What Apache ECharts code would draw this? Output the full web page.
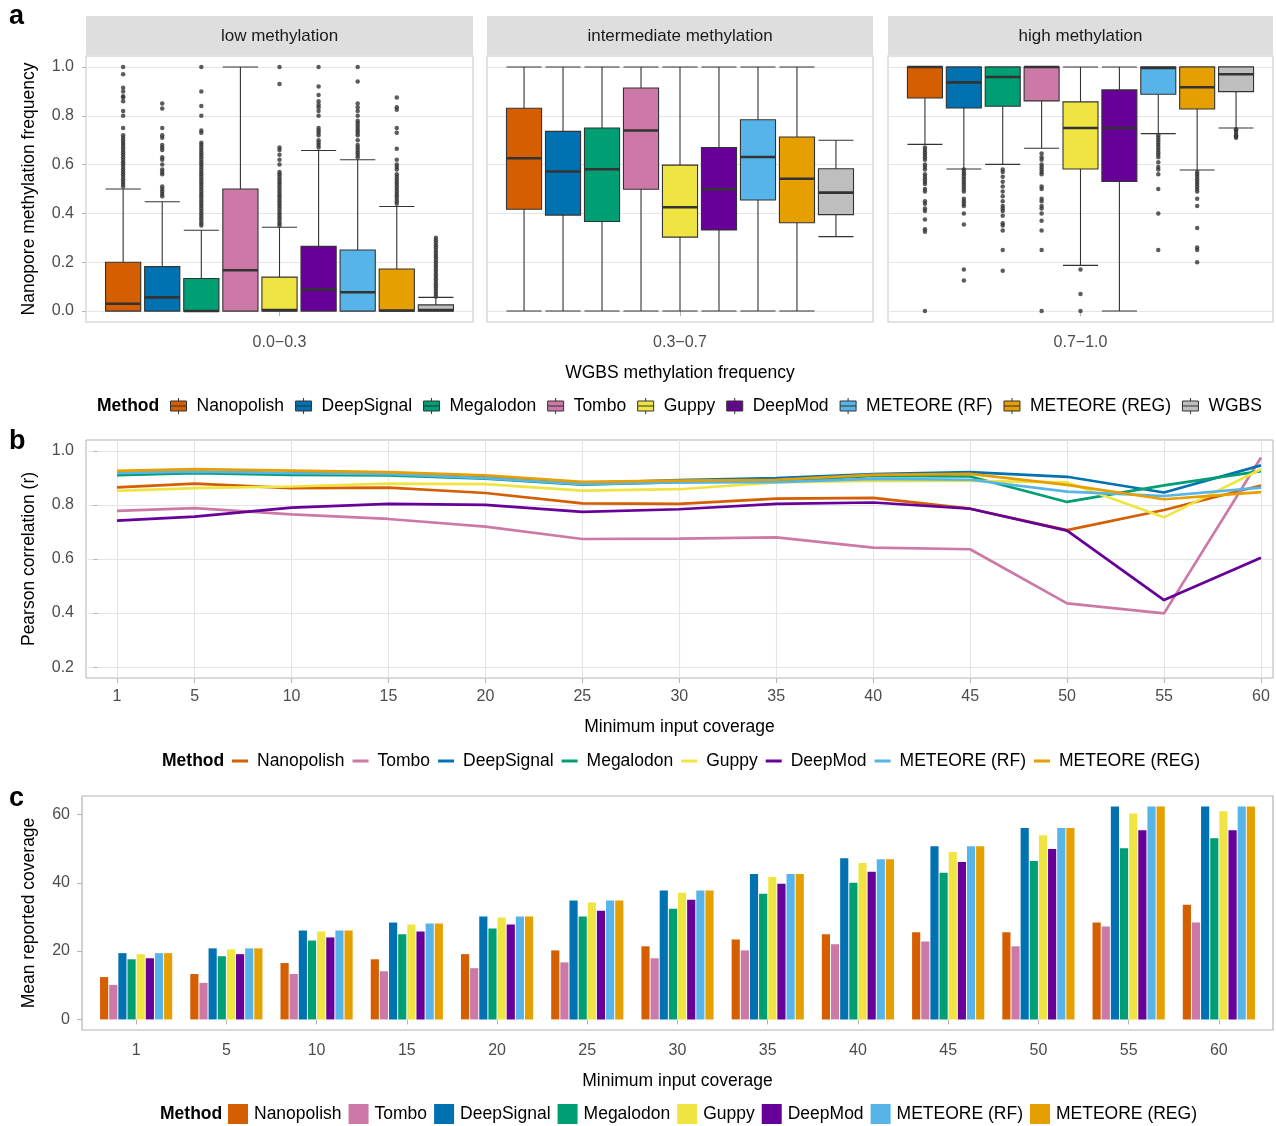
<!DOCTYPE html>
<html>
<head>
<meta charset="utf-8">
<title>Methylation benchmark</title>
<script src="https://cdn.jsdelivr.net/npm/echarts@6/dist/echarts.min.js"></script>
<style>
  html, body { margin: 0; padding: 0; background: #fff; }
  #chart { width: 1276px; height: 1126px; }
</style>
</head>
<body>
<div id="chart"></div>
<script>
// panel a order
const methods = ['Nanopolish', 'DeepSignal', 'Megalodon', 'Tombo', 'Guppy', 'DeepMod', 'METEORE (RF)', 'METEORE (REG)', 'WGBS'];
// panel b / c order
const methodsBC = ['Nanopolish', 'Tombo', 'DeepSignal', 'Megalodon', 'Guppy', 'DeepMod', 'METEORE (RF)', 'METEORE (REG)'];
const facetTitles = ['low methylation', 'intermediate methylation', 'high methylation'];
const facetLabels = ['0.0−0.3', '0.3−0.7', '0.7−1.0'];
const freqTicks = [0, 0.2, 0.4, 0.6, 0.8, 1.0];

// box stats: [lower whisker, Q1, median, Q3, upper whisker] in methods order
const boxLow = [
  [0, 0, 0.03, 0.20, 0.50],
  [0, 0, 0.056, 0.182, 0.448],
  [0, 0, 0, 0.133, 0.331],
  [0, 0, 0.167, 0.50, 1.0],
  [0, 0, 0.004, 0.139, 0.343],
  [0, 0, 0.089, 0.265, 0.658],
  [0, 0, 0.077, 0.25, 0.62],
  [0, 0, 0.002, 0.172, 0.428],
  [0, 0, 0.004, 0.025, 0.056]
];
const boxMid = [
  [0, 0.417, 0.626, 0.831, 1],
  [0, 0.393, 0.572, 0.736, 1],
  [0, 0.367, 0.581, 0.75, 1],
  [0, 0.499, 0.74, 0.914, 1],
  [0, 0.303, 0.425, 0.598, 1],
  [0, 0.332, 0.499, 0.67, 1],
  [0, 0.455, 0.631, 0.784, 1],
  [0, 0.362, 0.542, 0.713, 1],
  [0.305, 0.395, 0.485, 0.583, 0.70]
];
const boxHigh = [
  [0.683, 0.873, 1.0, 1.0, 1.0],
  [0.582, 0.832, 0.937, 1.0, 1.0],
  [0.601, 0.839, 0.959, 1.0, 1.0],
  [0.667, 0.861, 1.0, 1.0, 1.0],
  [0.187, 0.582, 0.75, 0.857, 1.0],
  [0, 0.531, 0.75, 0.906, 1.0],
  [0.727, 0.888, 0.996, 1.0, 1.0],
  [0.578, 0.828, 0.917, 1.0, 1.0],
  [0.75, 0.899, 0.97, 1.0, 1.0]
];

// outliers per method
const outLow = [
  [0.51, 0.52, 0.53, 0.54, 0.55, 0.56, 0.57, 0.58, 0.59, 0.60, 0.61, 0.62, 0.63, 0.64, 0.65, 0.66, 0.67, 0.68, 0.69, 0.70, 0.71, 0.72, 0.75, 0.80, 0.82, 0.86, 0.875, 0.88, 0.90, 0.915, 0.97, 1.0],
  [0.47, 0.48, 0.49, 0.50, 0.51, 0.56, 0.57, 0.58, 0.60, 0.62, 0.63, 0.66, 0.67, 0.68, 0.71, 0.72, 0.75, 0.83, 0.85],
  [0.35, 0.36, 0.37, 0.38, 0.39, 0.40, 0.41, 0.42, 0.43, 0.44, 0.45, 0.46, 0.47, 0.48, 0.49, 0.50, 0.51, 0.52, 0.53, 0.54, 0.55, 0.56, 0.57, 0.58, 0.59, 0.60, 0.61, 0.62, 0.63, 0.64, 0.65, 0.66, 0.67, 0.68, 0.69, 0.73, 0.74, 0.80, 0.84, 0.90, 1.0],
  [],
  [0.35, 0.36, 0.37, 0.38, 0.39, 0.40, 0.41, 0.42, 0.43, 0.44, 0.45, 0.46, 0.47, 0.48, 0.49, 0.50, 0.51, 0.52, 0.53, 0.54, 0.55, 0.56, 0.57, 0.60, 0.62, 0.64, 0.66, 0.67, 0.93, 1.0],
  [0.67, 0.68, 0.69, 0.70, 0.72, 0.73, 0.74, 0.75, 0.80, 0.82, 0.835, 0.845, 0.86, 0.885, 0.92, 1.0],
  [0.63, 0.64, 0.65, 0.66, 0.67, 0.68, 0.70, 0.72, 0.73, 0.74, 0.75, 0.76, 0.77, 0.78, 0.80, 0.82, 0.835, 0.85, 0.94, 1.0],
  [0.44, 0.45, 0.46, 0.47, 0.48, 0.49, 0.50, 0.51, 0.52, 0.53, 0.54, 0.55, 0.56, 0.58, 0.59, 0.60, 0.62, 0.665, 0.73, 0.75, 0.825, 0.835, 0.875],
  [0.06, 0.07, 0.08, 0.09, 0.10, 0.11, 0.12, 0.13, 0.14, 0.15, 0.16, 0.17, 0.18, 0.19, 0.20, 0.21, 0.22, 0.23, 0.24, 0.25, 0.26, 0.27, 0.28, 0.29, 0.30]
];
const outMid = [[], [], [], [], [], [], [], [], []];
const outHigh = [
  [0.67, 0.66, 0.65, 0.64, 0.63, 0.62, 0.60, 0.59, 0.58, 0.56, 0.55, 0.54, 0.53, 0.52, 0.50, 0.49, 0.45, 0.44, 0.42, 0.41, 0.375, 0.335, 0.325, 0],
  [0.58, 0.57, 0.56, 0.55, 0.54, 0.53, 0.52, 0.51, 0.50, 0.49, 0.46, 0.45, 0.44, 0.43, 0.40, 0.355, 0.17, 0.125],
  [0.58, 0.57, 0.55, 0.53, 0.51, 0.49, 0.47, 0.45, 0.43, 0.42, 0.41, 0.39, 0.36, 0.35, 0.33, 0.25, 0.165],
  [0.645, 0.63, 0.62, 0.60, 0.59, 0.58, 0.57, 0.56, 0.51, 0.50, 0.46, 0.45, 0.43, 0.42, 0.40, 0.37, 0.33, 0.25, 0],
  [0.17, 0.07, 0],
  [],
  [0.72, 0.71, 0.70, 0.69, 0.68, 0.67, 0.66, 0.65, 0.64, 0.63, 0.61, 0.59, 0.58, 0.56, 0.50, 0.40, 0.25],
  [0.57, 0.56, 0.55, 0.54, 0.53, 0.52, 0.51, 0.50, 0.49, 0.46, 0.43, 0.34, 0.26, 0.25, 0.20],
  [0.745, 0.74, 0.73, 0.72, 0.715, 0.71]
];

const coverage = [1, 5, 10, 15, 20, 25, 30, 35, 40, 45, 50, 55, 60];

// Pearson correlation (r) by minimum input coverage
const rNanopolish = [0.865, 0.879, 0.862, 0.864, 0.844, 0.806, 0.804, 0.823, 0.826, 0.786, 0.707, 0.781, 0.872];
const rTombo      = [0.778, 0.788, 0.765, 0.748, 0.720, 0.674, 0.675, 0.680, 0.642, 0.636, 0.436, 0.399, 0.975];
const rDeepSignal = [0.917, 0.922, 0.917, 0.915, 0.903, 0.881, 0.892, 0.899, 0.914, 0.921, 0.904, 0.846, 0.946];
const rMegalodon  = [0.910, 0.917, 0.911, 0.909, 0.897, 0.875, 0.884, 0.888, 0.907, 0.905, 0.811, 0.872, 0.925];
const rGuppy      = [0.852, 0.862, 0.868, 0.879, 0.877, 0.853, 0.858, 0.883, 0.889, 0.889, 0.883, 0.754, 0.932];
const rDeepMod    = [0.742, 0.757, 0.790, 0.804, 0.800, 0.774, 0.784, 0.804, 0.809, 0.786, 0.705, 0.448, 0.605];
const rRF         = [0.917, 0.923, 0.917, 0.914, 0.899, 0.877, 0.883, 0.884, 0.896, 0.893, 0.849, 0.833, 0.864];
const rREG        = [0.926, 0.932, 0.927, 0.921, 0.909, 0.885, 0.890, 0.893, 0.911, 0.915, 0.874, 0.821, 0.847];

// mean reported coverage by minimum input coverage
const mcNanopolish = [12.4, 13.3, 16.5, 17.6, 19.1, 20.2, 21.4, 23.4, 24.9, 25.5, 25.5, 28.4, 33.6];
const mcTombo      = [10.1, 10.7, 13.3, 14.1, 15.0, 16.7, 17.9, 20.2, 22.0, 22.8, 21.4, 27.2, 28.4];
const mcDeepSignal = [19.4, 20.8, 26.0, 28.4, 30.1, 34.8, 37.7, 42.6, 47.2, 50.7, 56.0, 62.3, 62.3];
const mcMegalodon  = [17.6, 18.5, 23.1, 24.9, 26.6, 30.1, 32.4, 36.8, 40.0, 42.9, 46.4, 50.1, 53.0];
const mcGuppy      = [19.1, 20.5, 25.7, 27.8, 29.8, 34.2, 37.1, 41.7, 45.8, 49.0, 53.9, 60.3, 60.9];
const mcDeepMod    = [17.9, 19.1, 24.0, 25.7, 27.8, 31.8, 35.0, 39.7, 43.2, 46.1, 49.9, 55.4, 55.4];
const mcRF         = [19.4, 20.8, 26.0, 28.1, 30.1, 34.8, 37.7, 42.6, 46.9, 50.7, 56.0, 62.3, 62.3];
const mcREG        = [19.4, 20.8, 26.0, 28.1, 30.1, 34.8, 37.7, 42.6, 46.9, 50.7, 56.0, 62.3, 62.3];

const rByMethod = {
  'Nanopolish': rNanopolish, 'Tombo': rTombo, 'DeepSignal': rDeepSignal, 'Megalodon': rMegalodon,
  'Guppy': rGuppy, 'DeepMod': rDeepMod, 'METEORE (RF)': rRF, 'METEORE (REG)': rREG
};
const mcByMethod = {
  'Nanopolish': mcNanopolish, 'Tombo': mcTombo, 'DeepSignal': mcDeepSignal, 'Megalodon': mcMegalodon,
  'Guppy': mcGuppy, 'DeepMod': mcDeepMod, 'METEORE (RF)': mcRF, 'METEORE (REG)': mcREG
};

const colors = {
  'Nanopolish': '#D55E00', 'DeepSignal': '#0072B2', 'Megalodon': '#009E73', 'Tombo': '#CC79A7',
  'Guppy': '#F0E442', 'DeepMod': '#660099', 'METEORE (RF)': '#56B4E9', 'METEORE (REG)': '#E69F00', 'WGBS': '#BEBEBE'
};

const FONT = 'Liberation Sans, Arial, sans-serif';
const tickGrey = '#4d4d4d';
const gridGrey = '#e5e5e5';
const borderGrey = '#b3b3b3';

// layout
const facetLeft = [86, 487, 888];
const facetWidth = [387, 386, 385];
const boxW = 0.9;

//箱线图绘制（误差线端 + 箱体 + 中位线）
function renderBox(params, api) {
  const x = api.value(0);
  const w = api.size([boxW, 0])[0];
  const pMin = api.coord([x, api.value(1)]);
  const pQ1 = api.coord([x, api.value(2)]);
  const pMed = api.coord([x, api.value(3)]);
  const pQ3 = api.coord([x, api.value(4)]);
  const pMax = api.coord([x, api.value(5)]);
  const cx = pMin[0], l = cx - w / 2, r = cx + w / 2;
  const ls = { stroke: '#333', lineWidth: 1.1 };
  return {
    type: 'group',
    children: [
      { type: 'line', shape: { x1: cx, y1: pMax[1], x2: cx, y2: pQ3[1] }, style: ls },
      { type: 'line', shape: { x1: cx, y1: pQ1[1], x2: cx, y2: pMin[1] }, style: ls },
      { type: 'line', shape: { x1: l, y1: pMax[1], x2: r, y2: pMax[1] }, style: ls },
      { type: 'line', shape: { x1: l, y1: pMin[1], x2: r, y2: pMin[1] }, style: ls },
      { type: 'rect', shape: { x: l, y: pQ3[1], width: w, height: pQ1[1] - pQ3[1] },
        style: { fill: api.visual('color'), stroke: '#333', lineWidth: 1.1 } },
      { type: 'line', shape: { x1: l, y1: pMed[1], x2: r, y2: pMed[1] }, style: { stroke: '#333', lineWidth: 2.6 } }
    ]
  };
}

const boxStats = [boxLow, boxMid, boxHigh];
const outliers = [outLow, outMid, outHigh];

const grids = [];
const xAxes = [];
const yAxes = [];
const series = [];

for (let f = 0; f < 3; f++) {
  grids.push({ left: facetLeft[f], top: 56, width: facetWidth[f], height: 266, show: true, borderColor: '#d9d9d9', borderWidth: 1.5 });
  xAxes.push({
    gridIndex: f, type: 'value', min: 0.05, max: 9.95,
    axisLine: { show: false }, splitLine: { show: false },
    axisTick: { show: true, customValues: [5], length: 5, lineStyle: { color: borderGrey } },
    axisLabel: { customValues: [5], formatter: () => facetLabels[f], margin: 13, color: tickGrey, fontSize: 16, fontFamily: FONT },
    name: f === 1 ? 'WGBS methylation frequency' : '', nameLocation: 'middle', nameGap: 42,
    nameTextStyle: { fontSize: 17.5, color: '#000', fontFamily: FONT }
  });
  yAxes.push({
    gridIndex: f, type: 'value', min: -0.045, max: 1.045,
    axisLine: { show: false },
    splitLine: { show: true, lineStyle: { color: gridGrey, width: 1.2 } },
    axisTick: { show: f === 0, customValues: freqTicks, length: 4, lineStyle: { color: borderGrey } },
    axisLabel: { show: f === 0, customValues: freqTicks, formatter: v => v.toFixed(1), margin: 12, color: tickGrey, fontSize: 16, fontFamily: FONT },
    name: f === 0 ? 'Nanopore methylation frequency' : '', nameLocation: 'middle', nameGap: 48,
    nameTextStyle: { fontSize: 17.5, color: '#000', fontFamily: FONT }
  });
  methods.forEach((m, i) => {
    series.push({
      type: 'custom', name: m, xAxisIndex: f, yAxisIndex: f,
      itemStyle: { color: colors[m] },
      renderItem: renderBox,
      data: [[i + 1].concat(boxStats[f][i])],
      silent: true
    });
  });
  const pts = [];
  outliers[f].forEach((list, i) => list.forEach(v => pts.push([i + 1, v])));
  series.push({
    type: 'scatter', name: 'outlier', xAxisIndex: f, yAxisIndex: f,
    symbol: 'circle', symbolSize: 4.5, itemStyle: { color: '#333' }, data: pts, silent: true, z: 3
  });
}

// panel b
grids.push({ left: 86, top: 440, width: 1187, height: 238, show: true, borderColor: borderGrey, borderWidth: 1 });
xAxes.push({
  gridIndex: 3, type: 'value', min: -0.6, max: 60.62,
  axisLine: { show: false },
  splitLine: { show: true, lineStyle: { color: gridGrey, width: 1.2 } },
  axisTick: { customValues: coverage, length: 5, lineStyle: { color: borderGrey } },
  axisLabel: { customValues: coverage, margin: 11, color: tickGrey, fontSize: 16, fontFamily: FONT },
  name: 'Minimum input coverage', nameLocation: 'middle', nameGap: 40,
  nameTextStyle: { fontSize: 17.5, color: '#000', fontFamily: FONT }
});
yAxes.push({
  gridIndex: 3, type: 'value', min: 0.16, max: 1.04,
  axisLine: { show: false },
  splitLine: { show: true, lineStyle: { color: gridGrey, width: 1.2 } },
  axisTick: { customValues: [0.2, 0.4, 0.6, 0.8, 1.0], length: 4, lineStyle: { color: borderGrey } },
  axisLabel: { customValues: [0.2, 0.4, 0.6, 0.8, 1.0], formatter: v => v.toFixed(1), margin: 12, color: tickGrey, fontSize: 16, fontFamily: FONT },
  name: 'Pearson correlation (r)', nameLocation: 'middle', nameGap: 48,
  nameTextStyle: { fontSize: 17.5, color: '#000', fontFamily: FONT }
});
methodsBC.forEach(m => {
  series.push({
    type: 'line', name: m, xAxisIndex: 3, yAxisIndex: 3,
    data: coverage.map((c, i) => [c, rByMethod[m][i]]),
    showSymbol: false, symbol: 'none', silent: true,
    lineStyle: { width: 2.7, color: colors[m] }, itemStyle: { color: colors[m] }
  });
});

// panel c
const covIndex = coverage.map((c, i) => i + 1);
grids.push({ left: 82, top: 796, width: 1191, height: 234, show: true, borderColor: borderGrey, borderWidth: 1.2 });
xAxes.push({
  gridIndex: 4, type: 'value', min: 0.4, max: 13.6,
  axisLine: { show: false }, splitLine: { show: false },
  axisTick: { customValues: covIndex, length: 5, lineStyle: { color: borderGrey } },
  axisLabel: { customValues: covIndex, formatter: v => String(coverage[Math.round(v) - 1]), margin: 13, color: tickGrey, fontSize: 16, fontFamily: FONT },
  name: 'Minimum input coverage', nameLocation: 'middle', nameGap: 42,
  nameTextStyle: { fontSize: 17.5, color: '#000', fontFamily: FONT }
});
yAxes.push({
  gridIndex: 4, type: 'value', min: -3.1, max: 65.4,
  axisLine: { show: false }, splitLine: { show: false },
  axisTick: { customValues: [0, 20, 40, 60], length: 5, lineStyle: { color: borderGrey } },
  axisLabel: { customValues: [0, 20, 40, 60], margin: 12, color: tickGrey, fontSize: 16, fontFamily: FONT },
  name: 'Mean reported coverage', nameLocation: 'middle', nameGap: 44,
  nameTextStyle: { fontSize: 17.5, color: '#000', fontFamily: FONT }
});
methodsBC.forEach(m => {
  series.push({
    type: 'bar', name: m, xAxisIndex: 4, yAxisIndex: 4,
    data: covIndex.map((x, i) => [x, mcByMethod[m][i]]),
    barGap: '12%', barCategoryGap: '20%', silent: true,
    itemStyle: { color: colors[m] }
  });
});

const boxIcon = 'path://M8,0L8,3M0,3L16,3L16,13L0,13ZM0,8L16,8M8,13L8,16';
const legendText = { fontSize: 17.5, color: '#000', fontFamily: FONT };

const chart = echarts.init(document.getElementById('chart'));
chart.setOption({
  animation: false,
  backgroundColor: '#fff',
  textStyle: { fontFamily: FONT },
  grid: grids,
  xAxis: xAxes,
  yAxis: yAxes,
  series: series,
  legend: [
    {
      left: 170, top: 397, padding: 0, itemWidth: 16, itemHeight: 17, itemGap: 11, selectedMode: false,
      icon: boxIcon, itemStyle: { borderColor: '#333', borderWidth: 1 },
      textStyle: Object.assign({ padding: [0, 0, 0, 5] }, legendText),
      data: methods
    },
    {
      left: 232, top: 752, padding: 0, itemWidth: 16, itemHeight: 3, itemGap: 8, selectedMode: false,
      icon: 'rect', itemStyle: { borderWidth: 0 },
      textStyle: Object.assign({ padding: [0, 0, 0, 4] }, legendText),
      data: methodsBC
    },
    {
      left: 228, top: 1104, padding: 0, itemWidth: 20, itemHeight: 20, itemGap: 7, selectedMode: false,
      icon: 'rect', itemStyle: { borderWidth: 0 },
      textStyle: Object.assign({ padding: [0, 0, 0, 1] }, legendText),
      data: methodsBC
    }
  ],
  graphic: [
    { type: 'text', x: 9, y: 17, style: { text: 'a', fontSize: 27, fontWeight: 'bold', fontFamily: FONT, fill: '#000', verticalAlign: 'middle' } },
    { type: 'text', x: 9, y: 442, style: { text: 'b', fontSize: 27, fontWeight: 'bold', fontFamily: FONT, fill: '#000', verticalAlign: 'middle' } },
    { type: 'text', x: 9, y: 799, style: { text: 'c', fontSize: 27, fontWeight: 'bold', fontFamily: FONT, fill: '#000', verticalAlign: 'middle' } },
    ...facetTitles.map((t, f) => ({
      type: 'group', children: [
        { type: 'rect', shape: { x: facetLeft[f], y: 16, width: facetWidth[f], height: 39 }, style: { fill: '#dedede' } },
        { type: 'text', x: facetLeft[f] + facetWidth[f] / 2, y: 36,
          style: { text: t, fontSize: 17, fontFamily: FONT, fill: '#1a1a1a', align: 'center', verticalAlign: 'middle' } }
      ]
    })),
    { type: 'text', x: 97, y: 406, style: { text: 'Method', fontSize: 17.5, fontWeight: 'bold', fontFamily: FONT, fill: '#000', verticalAlign: 'middle' } },
    { type: 'text', x: 162, y: 761, style: { text: 'Method', fontSize: 17.5, fontWeight: 'bold', fontFamily: FONT, fill: '#000', verticalAlign: 'middle' } },
    { type: 'text', x: 160, y: 1114, style: { text: 'Method', fontSize: 17.5, fontWeight: 'bold', fontFamily: FONT, fill: '#000', verticalAlign: 'middle' } }
  ]
});
</script>
</body>
</html>
